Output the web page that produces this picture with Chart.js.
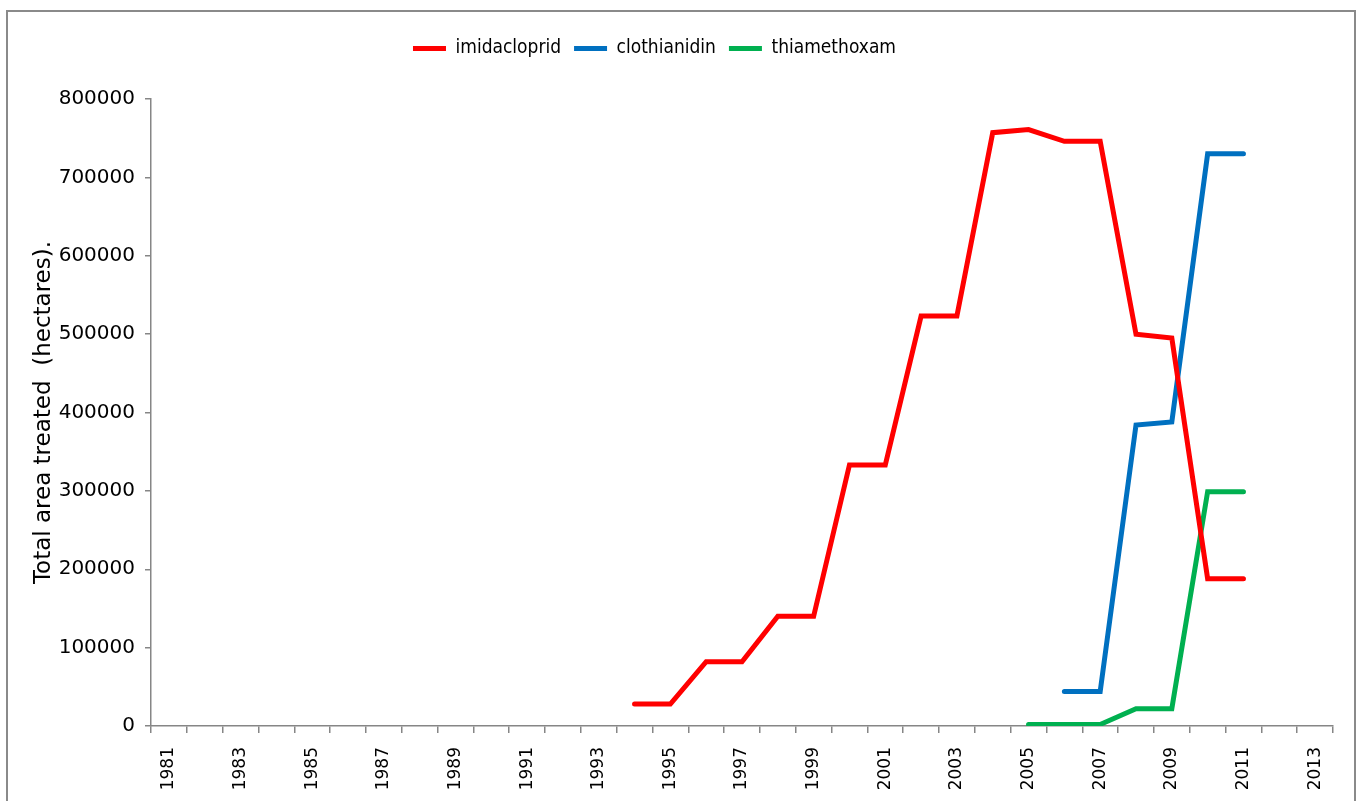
<!DOCTYPE html>
<html>
<head>
<meta charset="utf-8">
<script src="https://cdn.jsdelivr.net/npm/chart.js@4"></script>
<style>
  body { margin: 0; background: #fff; }
  #wrap { position: absolute; left: 0; top: 0; width: 1356px; height: 801px; }
  #frame { position: absolute; left: 6px; top: 10px; width: 1346px; height: 800px;
           border: 2px solid #8a8a8a; border-bottom: none; }
</style>
</head>
<body>
<div id="frame"></div>
<div id="wrap"><canvas id="canvas" width="1356" height="801"></canvas></div>
<script>
/* years on the x axis */
const years = [];
for (let y = 1981; y <= 2013; y++) years.push(String(y));

/* values, null = no data that year */
const imidacloprid = [null,null,null,null,null,null,null,null,null,null,null,null,null,
  28000, 28000, 82000, 82000, 140000, 140000, 333000, 333000, 523000, 523000,
  757000, 761000, 746000, 746000, 500000, 495000, 188000, 188000, null, null];
const clothianidin = [null,null,null,null,null,null,null,null,null,null,null,null,null,
  null,null,null,null,null,null,null,null,null,null,null,null,
  44000, 44000, 384000, 388000, 730000, 730000, null, null];
const thiamethoxam = [null,null,null,null,null,null,null,null,null,null,null,null,null,
  null,null,null,null,null,null,null,null,null,null,null,
  2000, 2000, 2000, 22000, 22000, 299000, 299000, null, null];

const yTicks = [0, 100000, 200000, 300000, 400000, 500000, 600000, 700000, 800000];

const axisGrey = '#868686';

/* make the legend box taller so the plot starts lower, and nudge it left */
const legendGap = {
  id: 'legendGap',
  beforeInit(chart) {
    const fit = chart.legend.fit;
    chart.legend.fit = function () {
      fit.bind(chart.legend)();
      this.height += 31;
    };
  },
  afterLayout(chart) {
    chart.legend.left -= 27;
    chart.legend.right -= 27;
  }
};

new Chart(document.getElementById('canvas'), {
  type: 'line',
  data: {
    labels: years,
    datasets: [
      { label: 'imidacloprid', data: imidacloprid, borderColor: '#FF0000', backgroundColor: '#FF0000' },
      { label: 'clothianidin', data: clothianidin, borderColor: '#0070C0', backgroundColor: '#0070C0' },
      { label: 'thiamethoxam', data: thiamethoxam, borderColor: '#00B050', backgroundColor: '#00B050' }
    ]
  },
  plugins: [legendGap],
  options: {
    responsive: false,
    animation: false,
    devicePixelRatio: 1,
    elements: {
      line: { borderWidth: 5, tension: 0, borderCapStyle: 'round' },
      point: { radius: 0, hoverRadius: 0 }
    },
    layout: { padding: { left: 30, right: 23, top: 26, bottom: 0 } },
    plugins: {
      tooltip: { enabled: false },
      legend: {
        position: 'top',
        labels: {
          color: '#000',
          font: { family: "'DejaVu Sans Condensed', 'Liberation Sans Narrow', 'DejaVu Sans', sans-serif", size: 19 },
          boxWidth: 33,
          boxHeight: 5,
          padding: 13,
          generateLabels: function (chart) {
            const items = Chart.defaults.plugins.legend.labels.generateLabels(chart);
            items.forEach(it => { it.lineWidth = 0; });
            return items;
          }
        }
      }
    },
    scales: {
      x: {
        type: 'category',
        offset: true,
        border: { color: axisGrey, width: 1.5 },
        grid: { drawOnChartArea: false, drawTicks: true, tickLength: 7, color: axisGrey, lineWidth: 1.5, offset: true },
        ticks: {
          color: '#000',
          autoSkip: false,
          maxRotation: 90,
          minRotation: 90,
          padding: 14,
          font: { family: "'DejaVu Sans', sans-serif", size: 17 },
          callback: function (v, i) { return (i % 2 === 0) ? years[i] : ''; }
        },
        afterFit: function (s) { s.height = 75; }
      },
      y: {
        min: 0,
        max: 800000,
        afterBuildTicks: function (s) { s.ticks = yTicks.map(v => ({ value: v })); },
        border: { color: axisGrey, width: 1.5 },
        grid: { drawOnChartArea: false, drawTicks: true, tickLength: 6, color: axisGrey, lineWidth: 1.5 },
        ticks: {
          color: '#000',
          padding: 10,
          font: { family: "'DejaVu Sans', sans-serif", size: 20 },
          callback: v => String(v)
        },
        title: {
          display: true,
          text: 'Total area treated  (hectares).',
          color: '#000',
          font: { family: "'DejaVu Sans', sans-serif", size: 23 },
          padding: { top: 0, bottom: 0 }
        },
        afterFit: function (s) { s.width = 121; }
      }
    }
  }
});
</script>
</body>
</html>
